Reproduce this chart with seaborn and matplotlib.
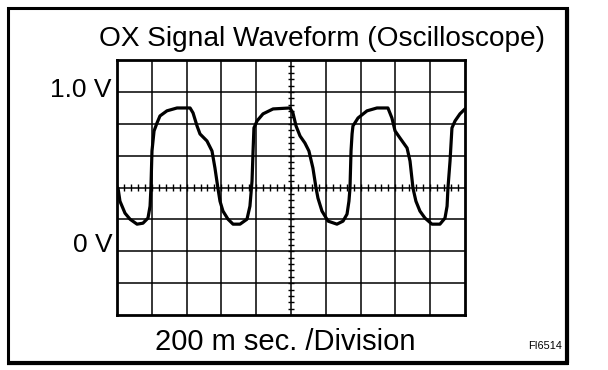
import numpy as np
import pandas as pd
import matplotlib
matplotlib.use("Agg")
import matplotlib.pyplot as plt
import seaborn as sns
from matplotlib.lines import Line2D
from matplotlib.patches import Rectangle

# ---- data (time in ms, voltage in V) ----
time_ms = [6, 17, 46, 75, 115, 149, 178, 190, 195, 201, 213, 230, 247, 287, 345, 420,
           437, 460, 477, 517, 546, 563, 580, 592, 609, 638, 667, 707, 747, 764, 776,
           782, 787, 805, 839, 897, 994, 1011, 1029, 1052, 1080, 1103, 1126, 1144,
           1155, 1178, 1213, 1264, 1299, 1322, 1333, 1339, 1345, 1351, 1356, 1385,
           1437, 1494, 1557, 1580, 1598, 1626, 1667, 1684, 1701, 1718, 1741, 1770,
           1810, 1856, 1885, 1897, 1902, 1914, 1925, 1943, 1971, 2000]
volts = [0.396, 0.314, 0.239, 0.201, 0.170, 0.176, 0.208, 0.283, 0.396, 0.629, 0.755,
         0.805, 0.849, 0.881, 0.899, 0.899, 0.868, 0.786, 0.736, 0.692, 0.629, 0.522,
         0.396, 0.314, 0.252, 0.201, 0.170, 0.170, 0.201, 0.283, 0.440, 0.629, 0.774,
         0.818, 0.862, 0.893, 0.899, 0.868, 0.786, 0.723, 0.679, 0.629, 0.522, 0.396,
         0.333, 0.252, 0.189, 0.170, 0.189, 0.233, 0.314, 0.396, 0.629, 0.736, 0.786,
         0.836, 0.881, 0.899, 0.899, 0.836, 0.755, 0.711, 0.648, 0.566, 0.396, 0.314,
         0.252, 0.208, 0.170, 0.170, 0.208, 0.283, 0.396, 0.566, 0.774, 0.818, 0.862,
         0.893]

title = "OX Signal Waveform (Oscilloscope)"
x_caption = "200 m sec. /Division"
y_label_texts = ["1.0 V", "0 V"]
figure_id = "FI6514"

x_divisions = [0, 200, 400, 600, 800, 1000, 1200, 1400, 1600, 1800, 2000]
y_divisions = [-0.4, -0.2, 0.0, 0.2, 0.4, 0.6, 0.8, 1.0, 1.2]

# ---- style ----
sns.set_theme(style="white")
plt.rcParams['font.family'] = ['Liberation Sans', 'DejaVu Sans']

W, H = 608, 370
fig = plt.figure(figsize=(W / 100, H / 100), dpi=100)
fig.patch.set_facecolor("white")

ax = fig.add_axes([117 / W, 1 - 315 / H, 348 / W, 255 / H])
ax.set_facecolor("white")

df = pd.DataFrame({"t": time_ms, "v": volts})
sns.lineplot(data=df, x="t", y="v", ax=ax, color="black", linewidth=2.3,
             sort=False, estimator=None, zorder=5)

ax.set_xlim(x_divisions[0], x_divisions[-1])
ax.set_ylim(y_divisions[0], y_divisions[-1])

# grid
for xv in x_divisions[1:-1]:
    ax.axvline(xv, color="black", lw=1.1, zorder=1)
for yv in y_divisions[1:-1]:
    ax.axhline(yv, color="black", lw=1.1, zorder=1)

# center crosshair sub-division ticks
x_center = x_divisions[len(x_divisions) // 2]
y_center = y_divisions[len(y_divisions) // 2]
x_minor = np.arange(x_divisions[0], x_divisions[-1] + 1, 40)
y_minor = np.linspace(y_divisions[0], y_divisions[-1], 41)
ax.vlines(x_minor, y_center - 0.022, y_center + 0.022, color="black", lw=1.0, zorder=2)
ax.hlines(y_minor, x_center - 18, x_center + 18, color="black", lw=1.0, zorder=2)

for s in ax.spines.values():
    s.set_visible(True)
    s.set_color("black")
    s.set_linewidth(2.0)
ax.set_xticks([])
ax.set_yticks([])
ax.set_xlabel("")
ax.set_ylabel("")

# texts
def fx(px):
    return px / W

def fy(py):
    return 1 - py / H

fig.text(fx(322), fy(46), title, ha="center", va="baseline", fontsize=20.2, color="black")
fig.text(fx(112), fy(97), y_label_texts[0], ha="right", va="baseline", fontsize=19, color="black")
fig.text(fx(113), fy(252), y_label_texts[1], ha="right", va="baseline", fontsize=19, color="black")
fig.text(fx(285), fy(350), x_caption, ha="center", va="baseline", fontsize=21, color="black")
fig.text(fx(562), fy(349), figure_id, ha="right", va="baseline", fontsize=7.8, color="black")

# outer frame (thin top/left, heavier right/bottom)
L, T, R, B = 8, 8, 567, 363
fig.add_artist(Rectangle((fx(L), fy(B)), (R - L) / W, (B - T) / H,
                         transform=fig.transFigure, fill=False,
                         edgecolor="black", linewidth=2.2, joinstyle="miter"))
fig.add_artist(Line2D([fx(R), fx(R)], [fy(T + 1), fy(B)], transform=fig.transFigure,
                      color="black", lw=3.0, solid_capstyle="butt"))
fig.add_artist(Line2D([fx(L - 1), fx(R + 1)], [fy(B), fy(B)], transform=fig.transFigure,
                      color="black", lw=3.0, solid_capstyle="butt"))

fig.savefig("out.png", dpi=100, facecolor="white")
